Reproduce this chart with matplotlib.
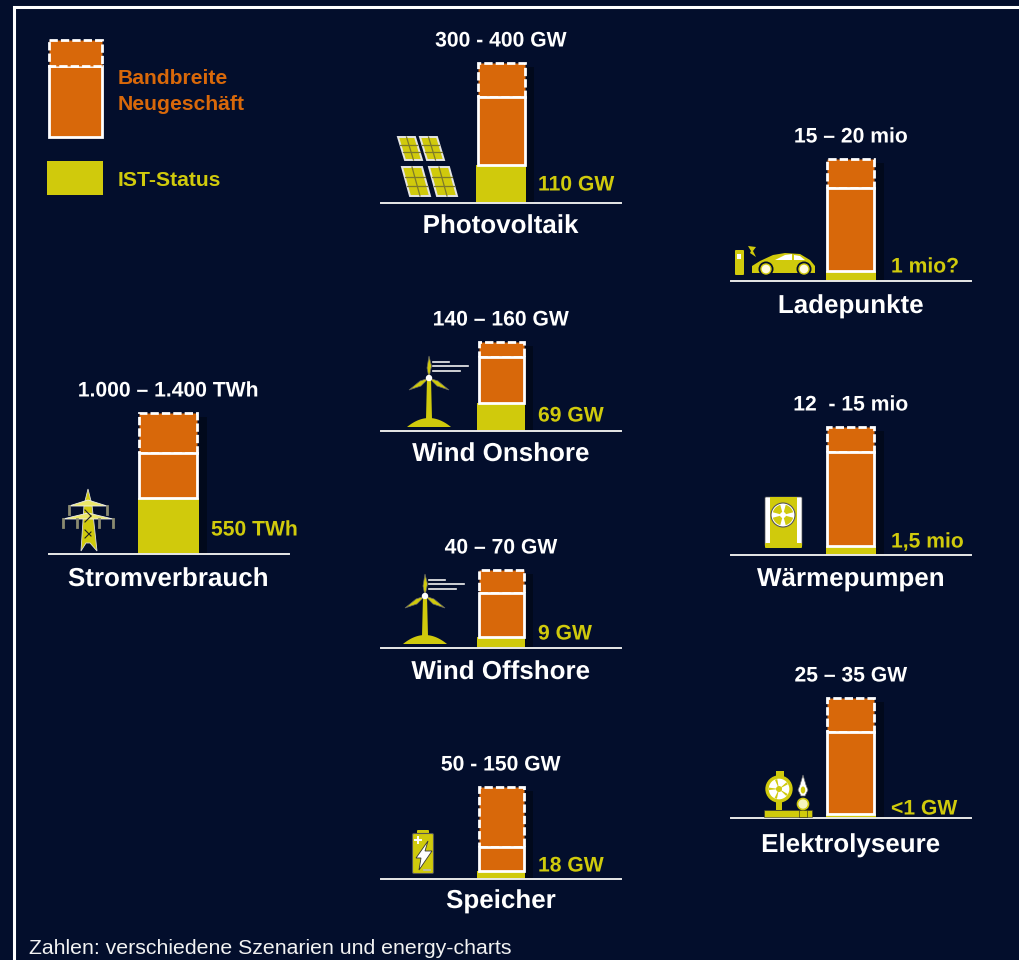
import matplotlib
matplotlib.use('Agg')
import matplotlib.pyplot as plt
import matplotlib.patheffects as pe
from matplotlib.patches import Rectangle, Polygon, Circle, Ellipse, Wedge, FancyBboxPatch

plt.rcParams['font.family'] = ['Liberation Sans', 'DejaVu Sans']

BG = '#030e2c'
ORANGE = '#d8680a'
YELLOW = '#d0ca0c'
WHITE = '#ffffff'
DASH = (0, (3.0, 1.1))

# panels, bar segments (height on the drawing scale)
names = ['Stromverbrauch', 'Photovoltaik', 'Wind Onshore', 'Wind Offshore', 'Speicher',
         'Ladepunkte', 'Wärmepumpen', 'Elektrolyseure']
range_labels = ['1.000 – 1.400 TWh', '300 - 400 GW', '140 – 160 GW', '40 – 70 GW', '50 - 150 GW',
                '15 – 20 mio', '12  - 15 mio', '25 – 35 GW']
ist_labels = ['550 TWh', '110 GW', '69 GW', '9 GW', '18 GW', '1 mio?', '1,5 mio', '<1 GW']
ist_height = [56, 38, 28, 11, 8, 10, 9, 4]
low_height = [101, 106, 74, 55, 32, 93, 103, 86]
high_height = [141, 140, 89, 78, 92, 122, 128, 120]

# layout in pixels
base_x = [49, 381, 381, 381, 381, 731, 731, 731]
base_y = [554, 203, 431, 648, 879, 281, 555, 818]
bar_w = [61, 50, 48, 48, 48, 50, 50, 50]
bar_cx = [168.5, 501, 501, 501, 501, 851, 851, 851]
ist_x = [211, 538, 538, 538, 538, 891, 891, 891]
ist_dy = [24, 18, 15, 14, 13, 14, 13, 9]
name_dy = [25, 23, 23, 24, 22, 25, 24, 27]
base_w = 240
W, H = 1020, 960

fig = plt.figure(figsize=(W / 100, H / 100), dpi=100, facecolor=BG)

# pixel overlay for frame, legend, icons
bg = fig.add_axes([0, 0, 1, 1], zorder=3)
bg.set_xlim(0, W)
bg.set_ylim(H, 0)
bg.axis('off')
bg.patch.set_alpha(0)

bg.plot([14, 14, 1025], [970, 7, 7], color=WHITE, lw=2.2, solid_joinstyle='miter')

shadow = [pe.withSimplePatchShadow(offset=(6, -3), shadow_rgbFace='black', alpha=0.35)]
text_sh = [pe.SimpleLineShadow(offset=(2, -2), shadow_color='black', alpha=0.5), pe.Normal()]


def draw_bar(ax, w, ist, low, high):
    ax.bar([0], [high], width=w, color=BG, zorder=1, path_effects=shadow)
    ax.bar([0], [ist], width=w, color=YELLOW, zorder=2)
    ax.bar([0], [high - low], bottom=[low], width=w - 3, color=ORANGE, edgecolor=WHITE, lw=2,
           linestyle=DASH, zorder=3)
    ax.bar([0], [low - ist], bottom=[ist], width=w - 3, color=ORANGE, edgecolor=WHITE, lw=2, zorder=4)


for i, name in enumerate(names):
    # 1 data unit = 1 pixel, one axes per panel
    ax = fig.add_axes([base_x[i] / W, 1 - base_y[i] / H, base_w / W, 150 / H], zorder=2)
    ax.patch.set_alpha(0)
    cx = bar_cx[i] - base_x[i]
    ax.set_xlim(-cx, base_w - cx)
    ax.set_ylim(0, 150)
    ax.set_xticks([])
    ax.set_yticks([])
    for s in ['top', 'left', 'right']:
        ax.spines[s].set_visible(False)
    ax.spines['bottom'].set_color('#e8e8e8')
    ax.spines['bottom'].set_linewidth(1.4)
    draw_bar(ax, bar_w[i], ist_height[i], low_height[i], high_height[i])
    ax.text(bar_cx[i], base_y[i] + name_dy[i], name, transform=bg.transData, ha='center', va='center',
            color=WHITE, fontsize=18.7, fontweight='bold', clip_on=False, path_effects=text_sh)
    ax.text(bar_cx[i], base_y[i] - high_height[i] - 22, range_labels[i], transform=bg.transData, ha='center',
            va='center', color=WHITE, fontsize=15.2, fontweight='bold', clip_on=False, path_effects=text_sh)
    ax.text(ist_x[i], base_y[i] - ist_dy[i], ist_labels[i], transform=bg.transData, ha='left',
            va='center', color=YELLOW, fontsize=15.2, fontweight='bold', clip_on=False, path_effects=text_sh)

# legend
bg.add_patch(Rectangle((49, 66), 53, 71, fc=ORANGE, ec=WHITE, lw=2))
bg.add_patch(Rectangle((49, 40), 53, 26, fc=ORANGE, ec=WHITE, lw=2, linestyle=DASH))
bg.add_patch(Rectangle((47, 161), 56, 34, fc=YELLOW, ec='none'))
bg.text(118, 79, 'Bandbreite', color=ORANGE, fontsize=15.2, fontweight='bold', va='center')
bg.text(118, 105, 'Neugeschäft', color=ORANGE, fontsize=15.2, fontweight='bold', va='center')
bg.text(118, 181, 'IST-Status', color=YELLOW, fontsize=15.2, fontweight='bold', va='center')
bg.text(29, 949, 'Zahlen: verschiedene Szenarien und energy-charts', color='#f2f2f2', fontsize=15.3, va='center')


def solar(x, y, w, h, skew):
    pts = [(x, y), (x + w, y), (x + w + skew, y + h), (x + skew, y + h)]
    bg.add_patch(Polygon(pts, fc=YELLOW, ec='#e4e4e4', lw=1.4))
    bg.plot([x + w / 2, x + w / 2 + skew], [y, y + h], color='#7d7a2a', lw=0.9)
    for k in [1 / 3, 2 / 3]:
        bg.plot([x + skew * k, x + w + skew * k], [y + h * k, y + h * k], color='#7d7a2a', lw=0.9)


for p in [(398, 137, 17, 23, 7), (420, 137, 17, 23, 7), (402, 167, 20, 29, 8), (429, 167, 20, 29, 8)]:
    solar(*p)


def turbine(cx, top, hub, foot, lines):
    hill = [(cx + t, foot - 9 * (1 - (t / 22) ** 2)) for t in range(-22, 23, 2)]
    bg.add_patch(Polygon(hill, fc=YELLOW, ec='none'))
    bg.add_patch(Polygon([(cx - 3, foot - 8), (cx + 3, foot - 8), (cx + 2, hub), (cx - 2, hub)], fc=YELLOW, ec='none'))
    bg.add_patch(Polygon([(cx, top), (cx + 2.5, hub - 12), (cx, hub), (cx - 2, hub - 10)], fc=YELLOW, ec='#666666', lw=0.5))
    bg.add_patch(Polygon([(cx, hub), (cx - 9, hub + 3), (cx - 20, hub + 12), (cx - 8, hub + 8)], fc=YELLOW, ec='#666666', lw=0.5))
    bg.add_patch(Polygon([(cx, hub), (cx + 9, hub + 3), (cx + 20, hub + 12), (cx + 8, hub + 8)], fc=YELLOW, ec='#666666', lw=0.5))
    bg.add_patch(Circle((cx, hub), 3.2, fc=WHITE, ec='none'))
    for ly, x0, x1 in lines:
        bg.plot([x0, x1], [ly, ly], color='#f2f2f2', lw=1.2)


turbine(429, 356, 378, 427, [(362, 433, 449), (366, 433, 468), (370.5, 433, 460)])
turbine(425, 574, 596, 644, [(579.5, 429, 445), (584, 429, 464), (588.5, 429, 456)])

# pylon
bg.add_patch(Polygon([(88, 489), (92, 505), (97, 551), (90, 543), (86, 543), (81, 551), (84, 505)], fc=YELLOW, ec='#dddddd', lw=0.6))
for yy, hw in [(503, 19), (516, 25)]:
    bg.add_patch(Polygon([(88 - hw, yy + 3), (88, yy - 3), (88 + hw, yy + 3), (88, yy + 3)], fc='#ece86a', ec='#eeeeee', lw=0.6))
    for dx in ([-19, 19] if hw == 19 else [-25, -11, 11, 25]):
        bg.plot([88 + dx, 88 + dx], [yy + 3, yy + 11], color='#8a8a70', lw=2)
for yy, sgn in [(510, 1), (522, -1), (530, 1), (538, -1)]:
    bg.plot([85, 91], [yy, yy + 6 * sgn], color='#222222', lw=0.8)

# battery
bg.add_patch(FancyBboxPatch((418, 831), 10, 2, boxstyle='round,pad=1', fc=YELLOW, ec='none'))
bg.add_patch(FancyBboxPatch((414, 835), 18, 37, boxstyle='round,pad=1.5', fc=YELLOW, ec='#555555', lw=0.8))
bg.add_patch(Polygon([(428, 841), (416, 858), (421, 858), (419, 870), (432, 851), (425, 851)], fc=WHITE, ec='#333333', lw=0.6))
bg.plot([415, 421], [840, 840], color=WHITE, lw=1.4)
bg.plot([418, 418], [837, 843], color=WHITE, lw=1.4)
bg.plot([424, 430], [870, 870], color='#bbbbbb', lw=1.2)

# charging point and car
bg.add_patch(FancyBboxPatch((736, 251), 7, 23, boxstyle='round,pad=1', fc=YELLOW, ec='none'))
bg.add_patch(Rectangle((737, 254), 4, 5, fc=WHITE, ec='none'))
bg.add_patch(Polygon([(748, 246), (756, 247), (753, 251), (756, 257), (750, 253), (751, 251)], fc=YELLOW, ec='none'))
bg.add_patch(Polygon([(752, 273), (752, 266), (760, 261), (773, 255), (785, 253), (800, 254), (810, 260), (815, 266), (815, 273)], fc=YELLOW, ec='none'))
bg.add_patch(Polygon([(775, 260), (785, 255), (792, 254), (792, 260)], fc=WHITE, ec='none'))
bg.add_patch(Polygon([(794, 255), (800, 256), (805, 260), (794, 260)], fc=WHITE, ec='none'))
for cxx in [766, 804]:
    bg.add_patch(Circle((cxx, 269), 7.5, fc=BG, ec='none'))
    bg.add_patch(Circle((cxx, 269), 5, fc='#fffbe0', ec=YELLOW, lw=1))

# heat pump
bg.add_patch(FancyBboxPatch((766, 498), 35, 47, boxstyle='round,pad=1', fc=WHITE, ec='#555555', lw=0.5))
bg.add_patch(Rectangle((770, 497), 27, 48, fc=YELLOW, ec='none'))
bg.add_patch(FancyBboxPatch((766, 544), 35, 3, boxstyle='round,pad=1', fc=YELLOW, ec='none'))
bg.add_patch(Circle((783, 515), 12, fc=WHITE, ec='#555555', lw=0.8))
for a in range(0, 360, 90):
    bg.add_patch(Wedge((783, 515), 10.5, a + 15, a + 75, fc=YELLOW, ec='none'))
bg.add_patch(Circle((783, 515), 3, fc=WHITE, ec='none'))

# electrolyser
bg.add_patch(Rectangle((764, 810), 48, 7, fc=YELLOW, ec='#333333', lw=0.4))
bg.add_patch(Rectangle((799, 810), 8, 7, fc=YELLOW, ec='#222222', lw=0.4))
bg.add_patch(Rectangle((776, 771), 8, 8, fc=YELLOW, ec='none'))
bg.add_patch(Rectangle((776, 800), 6, 10, fc=YELLOW, ec='none'))
bg.add_patch(Circle((779, 789), 12, fc=WHITE, ec=YELLOW, lw=2.4))
for a in range(30, 390, 72):
    bg.add_patch(Wedge((779, 789), 10, a, a + 14, fc=YELLOW, ec='none'))
bg.add_patch(Circle((779, 789), 3, fc=YELLOW, ec='none'))
bg.add_patch(Circle((803, 804), 5.5, fc='#f5f3c0', ec=YELLOW, lw=1.2))
bg.add_patch(Polygon([(803, 775), (806, 785), (808, 790), (805, 796), (801, 796), (798, 790), (800, 785)], fc=WHITE, ec='#666666', lw=0.5))
bg.add_patch(Ellipse((803, 790), 4.5, 7, fc=YELLOW, ec='none'))

fig.savefig('out.png', dpi=100, facecolor=BG)
